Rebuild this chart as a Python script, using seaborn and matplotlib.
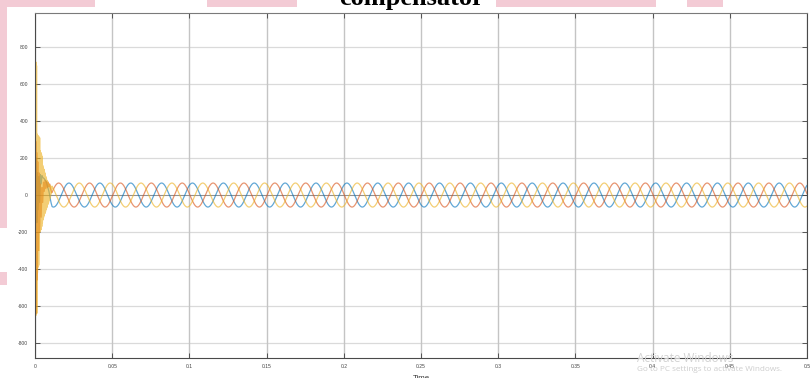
import numpy as np
import pandas as pd
import matplotlib
matplotlib.use("Agg")
import matplotlib.pyplot as plt
from matplotlib.patches import Rectangle
import seaborn as sns

# ---- steady-state three-phase source current ----
AMPLITUDE = 65.0          # A, peak
FREQUENCY = 50.0          # Hz
TIME_SHIFT = 0.002        # s, phase-A reference offset
PHASE_DEG = {"Phase A": 0.0, "Phase B": 120.0, "Phase C": -120.0}
T_END = 0.5
T_SETTLE = 0.011          # end of the switching transient

# ---- start-up transient (samples per phase) ----
trans_t_a = [0, .0003, .0006, .0009, .0012, .0016, .002, .0025, .003, .0035, .004,
             .0045, .005, .0055, .006, .0065, .007, .0075, .008, .0085, .009,
             .0095, .010, .0105]
trans_i_a = [0, 160, -120, 200, -150, 120, -80, 100, -40, 110, 60, 105, 95, 92,
             88, 82, 75, 65, 50, 35, 20, 0, -25, -45]

trans_t_b = [0, .0002, .0005, .0008, .0011, .0014, .0018, .0022, .0026, .003,
             .0035, .004, .0045, .005, .0055, .006, .0065, .007, .0075, .008,
             .0085, .009, .0095, .010, .0105]
trans_i_b = [0, -280, 290, -640, 230, -460, 180, -300, 120, -200, 60, -120, 40,
             -40, 70, 20, 80, 35, 75, 40, 70, 45, 60, 35, 22]

trans_t_c = [round(0.0002 * k, 4) for k in range(55)]
trans_i_c = [0, 690, -520, 720, -650, 700, -640, 330, -420, 320, -390, 320, -380,
             315, -300, 310, -200, 240, -190, 230, -185, 220, -170, 210, -150,
             160, -135, 150, -120, 140, -110, 125, -100, 115, -90, 100, -80, 90,
             -70, 80, -60, 72, -50, 65, -40, 60, -30, 55, -20, 50, -10, 45, 5,
             42, 30]

transients = {
    "Phase A": (trans_t_a, trans_i_a),
    "Phase B": (trans_t_b, trans_i_b),
    "Phase C": (trans_t_c, trans_i_c),
}

frames = []
t_ss = np.linspace(T_SETTLE, T_END, 25000)
for name, deg in PHASE_DEG.items():
    tt, ii = transients[name]
    i_ss = AMPLITUDE * np.cos(2 * np.pi * FREQUENCY * (t_ss - TIME_SHIFT) + np.deg2rad(deg))
    t_all = np.concatenate([np.asarray(tt, float), t_ss])
    i_all = np.concatenate([np.asarray(ii, float), i_ss])
    frames.append(pd.DataFrame({"Time": t_all, "Current": i_all, "Phase": name}))
df = pd.concat(frames, ignore_index=True)

x_ticks = [0, 0.05, 0.1, 0.15, 0.2, 0.25, 0.3, 0.35, 0.4, 0.45, 0.5]
x_tick_labels = ["0", "0.05", "0.1", "0.15", "0.2", "0.25", "0.3", "0.35", "0.4", "0.45", "0.5"]
y_ticks = [-800, -600, -400, -200, 0, 200, 400, 600, 800]

palette = {"Phase A": "#0072BD", "Phase B": "#D95319", "Phase C": "#EDB120"}

sns.set_theme(style="white")
plt.rcParams["font.family"] = ["Liberation Sans", "DejaVu Sans"]

fig = plt.figure(figsize=(8.1, 3.78), dpi=100)
fig.patch.set_facecolor("white")

# pink highlight remnants around the page
pink = "#f3cbd5"
for (x0, y0, w, h) in [(0, 0, 95, 6.5), (207, 0, 90, 6.5), (496, 0, 160, 7),
                       (687, 0, 36, 7), (0, 6, 6.5, 222), (0, 272, 6.5, 13)]:
    fig.patches.append(Rectangle((x0 / 810, 1 - (y0 + h) / 378), w / 810, h / 378,
                                 transform=fig.transFigure, facecolor=pink,
                                 edgecolor="none", zorder=0))

fig.text(412 / 810, 1 - 4.5 / 378, "compensator", ha="center", va="baseline",
         fontsize=19, fontweight="bold", family=["Liberation Serif", "DejaVu Serif"],
         color="black")

ax = fig.add_axes([35 / 810, 1 - 358 / 378, 772 / 810, (358 - 12.5) / 378])
ax.set_facecolor("white")

for v in y_ticks:
    ax.axhline(v, color="#dadada", lw=0.9, zorder=0)
for v in x_ticks:
    ax.axvline(v, color="#c4c4c4", lw=1.0, zorder=0)
ax.axhline(0, color="#8f8f8f", lw=0.7, zorder=0.5)

sns.lineplot(data=df, x="Time", y="Current", hue="Phase", palette=palette,
             hue_order=["Phase A", "Phase B", "Phase C"], sort=False,
             estimator=None, linewidth=0.9, alpha=0.62, legend=False, ax=ax)

ax.set_xlim(0, 0.5)
ax.set_ylim(-882, 988)
ax.set_xticks(x_ticks)
ax.set_xticklabels(x_tick_labels)
ax.set_yticks(y_ticks)
ax.set_yticklabels([str(v) for v in y_ticks])
ax.tick_params(axis="both", direction="in", length=3.6, width=0.6, color="#404040",
               labelsize=3.6, labelcolor="#444444", top=True, right=True,
               bottom=True, left=True)
ax.tick_params(axis="y", pad=5)
ax.tick_params(axis="x", pad=4.5)
for side in ["left", "bottom", "top", "right"]:
    ax.spines[side].set_color("#4a4a4a")
    ax.spines[side].set_linewidth(0.8)
ax.spines["top"].set_color("#7a7a7a")

ax.set_xlabel("Time", fontsize=5.6, color="#333333", labelpad=4)
ax.set_ylabel("Current (amperes)", fontsize=5.6, color="#333333", labelpad=8)
ax.grid(False)

fig.text(637 / 810, 1 - 358 / 378, "Activate Windows", ha="left", va="center",
         fontsize=8.5, color="#d2d2d2", family=["Open Sans", "DejaVu Sans"])
fig.text(637 / 810, 1 - 369.5 / 378, "Go to PC settings to activate Windows.",
         ha="left", va="center", fontsize=5.9, color="#cdcdcd",
         family=["Open Sans", "DejaVu Sans"])

fig.savefig("out.png", dpi=100, facecolor="white")
